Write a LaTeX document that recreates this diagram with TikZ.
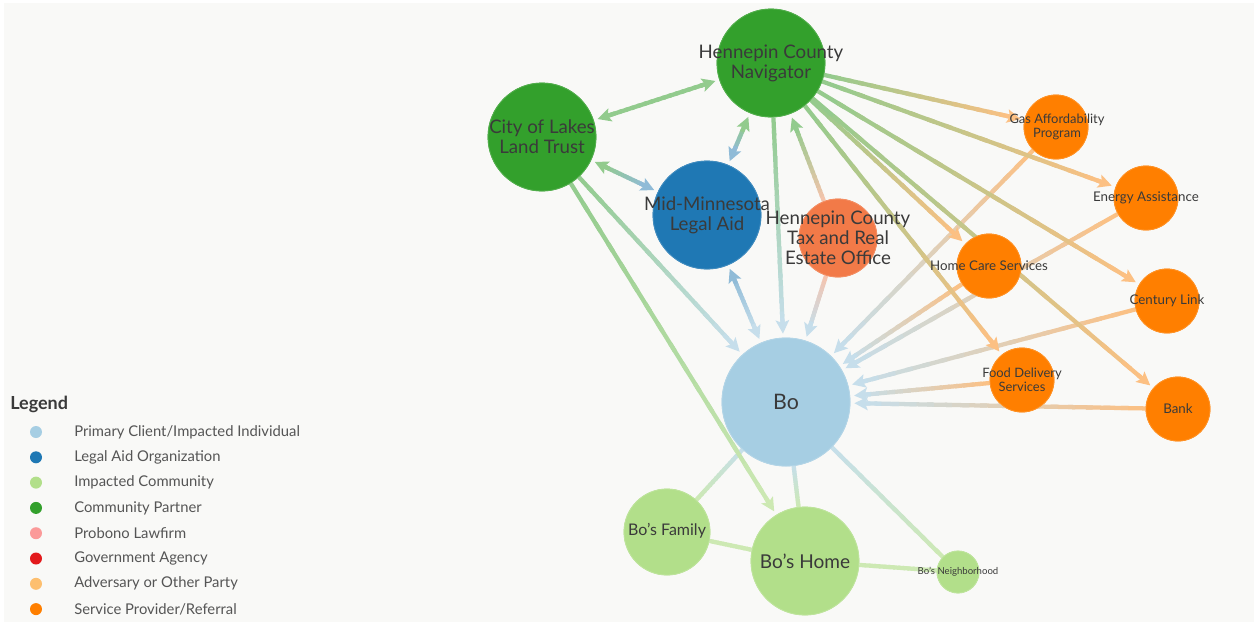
\documentclass[tikz,border=0pt]{standalone}
\usepackage{fontspec}
\setmainfont{Lato}
\usetikzlibrary{arrows.meta,calc}
\definecolor{bgc}{HTML}{F9F9F7}
\definecolor{cBo}{HTML}{A6CEE3}
\definecolor{cLA}{HTML}{1F78B4}
\definecolor{cIC}{HTML}{B2DF8A}
\definecolor{cCP}{HTML}{33A02C}
\definecolor{cPB}{HTML}{FB9A99}
\definecolor{cGA}{HTML}{E31A1C}
\definecolor{cAD}{HTML}{FDBF6F}
\definecolor{cSP}{HTML}{FF7F00}
\definecolor{cHT}{HTML}{F27A48}
\definecolor{txt}{HTML}{3A3A3A}
\definecolor{legtxt}{HTML}{555555}
\colorlet{lBo}{cBo!62!bgc}
\colorlet{lLA}{cLA!48!bgc}
\colorlet{lIC}{cIC!62!bgc}
\colorlet{lCP}{cCP!52!bgc}
\colorlet{lSP}{cSP!47!bgc}
\colorlet{lHT}{cHT!42!bgc}
\tikzset{
  edgeline/.style={line width=3.2pt, line cap=butt},
  tipstyle/.style={-{Stealth[length=10pt,width=10pt,inset=2pt]}},
  nd/.style 2 args={circle, fill=#1, draw=#1!85!white, line width=0.6pt, minimum size=#2*1.5pt, inner sep=0pt},
  lab/.style={text=txt, align=center, inner sep=0pt},
  legdot/.style={circle, fill=#1, minimum size=9pt, inner sep=0pt},
  legtext/.style={text=legtxt, anchor=west, font=\fontsize{11.1}{13}\selectfont, inner sep=0pt}
}
\newcommand\gedge[5]{%
  \path (#1) -- (#2) coordinate[pos=0] (ea0) coordinate[pos=1] (eb0);
  \ifnum#5>0 \coordinate (eb) at ($(eb0)!3pt!(ea0)$); \coordinate (sb) at ($(eb0)!10pt!(ea0)$);
  \else \coordinate (eb) at (eb0); \coordinate (sb) at (eb0); \fi
  \ifnum#5>1 \coordinate (ea) at ($(ea0)!3pt!(eb0)$); \coordinate (sa) at ($(ea0)!10pt!(eb0)$);
  \else \coordinate (ea) at (ea0); \coordinate (sa) at (ea0); \fi
  \foreach \i in {0,...,15}{%
    \pgfmathsetmacro\pa{\i/16}%
    \pgfmathsetmacro\pb{min(1,(\i+1.4)/16)}%
    \pgfmathsetmacro\pc{100*(\i+0.5)/16}%
    \colorlet{segc}{#4!\pc!#3}%
    \draw[edgeline, draw=segc] ($(sa)!\pa!(sb)$) -- ($(sa)!\pb!(sb)$);
  }%
  \ifnum#5>0 \draw[edgeline, draw=#4, fill=#4, tipstyle] ($(eb)!12pt!(ea)$) -- (eb); \fi
  \ifnum#5>1 \draw[edgeline, draw=#3, fill=#3, tipstyle] ($(ea)!12pt!(eb)$) -- (ea); \fi
}
\begin{document}
\begin{tikzpicture}[x=0.75pt,y=-0.75pt]
\useasboundingbox (0,0) rectangle (1254,622);
\fill[white] (0,0) rectangle (1254,622);
\fill[bgc] (4,3) rectangle (1254,622);

% node circles (positions)
\path
 (771,63)  node[nd={cCP}{54}] (hcn) {}
 (542,137) node[nd={cCP}{54}] (cllt) {}
 (707,215) node[nd={cLA}{54}] (mmla) {}
 (838,238) node[nd={cHT}{39}] (hct) {}
 (786,402) node[nd={cBo}{64}] (bo) {}
 (1056,127) node[nd={cSP}{32}] (gas) {}
 (1146,198) node[nd={cSP}{32}] (energy) {}
 (989,266) node[nd={cSP}{32}] (homecare) {}
 (1167,301) node[nd={cSP}{32}] (century) {}
 (1022,380) node[nd={cSP}{32}] (food) {}
 (1178,409) node[nd={cSP}{32}] (bank) {}
 (667,532) node[nd={cIC}{43}] (family) {}
 (805,561) node[nd={cIC}{54}] (home) {}
 (958,572) node[nd={cIC}{21}] (neigh) {};

% edges
\gedge{bo}{family}{lBo}{lIC}{0}
\gedge{bo}{home}{lBo}{lIC}{0}
\gedge{bo}{neigh}{lBo}{lIC}{0}
\gedge{family}{home}{lIC}{lIC}{0}
\gedge{home}{neigh}{lIC}{lIC}{0}
\gedge{cllt}{bo}{lCP}{lBo}{1}
\gedge{cllt}{home}{lCP}{lIC}{1}
\gedge{gas}{bo}{lSP}{lBo}{1}
\gedge{energy}{bo}{lSP}{lBo}{1}
\gedge{homecare}{bo}{lSP}{lBo}{1}
\gedge{century}{bo}{lSP}{lBo}{1}
\gedge{food}{bo}{lSP}{lBo}{1}
\gedge{bank}{bo}{lSP}{lBo}{1}
\gedge{hcn}{gas}{lCP}{lSP}{1}
\gedge{hcn}{energy}{lCP}{lSP}{1}
\gedge{hcn}{homecare}{lCP}{lSP}{1}
\gedge{hcn}{century}{lCP}{lSP}{1}
\gedge{hcn}{food}{lCP}{lSP}{1}
\gedge{hcn}{bank}{lCP}{lSP}{1}
\gedge{hcn}{bo}{lCP}{lBo}{1}
\gedge{hct}{hcn}{lHT}{lCP}{1}
\gedge{hct}{bo}{lHT}{lBo}{1}
\gedge{mmla}{bo}{lLA}{lBo}{2}
\gedge{cllt}{hcn}{lCP}{lCP}{2}
\gedge{cllt}{mmla}{lCP}{lLA}{2}
\gedge{hcn}{mmla}{lCP}{lLA}{2}

% redraw circles on top of edges
\foreach \n/\c/\r in {hcn/cCP/54, cllt/cCP/54, mmla/cLA/54, hct/cHT/39, bo/cBo/64,
  gas/cSP/32, energy/cSP/32, homecare/cSP/32, century/cSP/32, food/cSP/32, bank/cSP/32,
  family/cIC/43, home/cIC/54, neigh/cIC/21}{
  \fill[\c, draw=\c!85!white, line width=0.6pt] (\n.center) circle[radius=\r*0.75pt];
}

% labels
\node[lab, font=\fontsize{14}{15}\selectfont] (hcn-l) at (771,63) {Hennepin County\\Navigator};
\node[lab, font=\fontsize{14}{15}\selectfont] (cllt-l) at (542,137) {City of Lakes\\Land Trust};
\node[lab, font=\fontsize{14}{15}\selectfont] (mmla-l) at (707,215) {Mid-Minnesota\\Legal Aid};
\node[lab, font=\fontsize{14}{15}\selectfont] (hct-l) at (838,238) {Hennepin County\\Tax and Real\\Estate Office};
\node[lab, font=\fontsize{16}{18}\selectfont] (bo-l) at (786,402) {Bo};
\node[lab, font=\fontsize{9.7}{10.8}\selectfont] (gas-l) at (1057,127) {Gas Affordability\\Program};
\node[lab, font=\fontsize{10}{11}\selectfont] (energy-l) at (1146,198) {Energy Assistance};
\node[lab, font=\fontsize{10}{11}\selectfont] (homecare-l) at (989,266) {Home Care Services};
\node[lab, font=\fontsize{10}{11}\selectfont] (century-l) at (1167,301) {Century Link};
\node[lab, font=\fontsize{9.7}{10.8}\selectfont] (food-l) at (1022,380) {Food Delivery\\Services};
\node[lab, font=\fontsize{10}{11}\selectfont] (bank-l) at (1178,409) {Bank};
\node[lab, font=\fontsize{12}{13}\selectfont] (family-l) at (667,531) {Bo's Family};
\node[lab, font=\fontsize{14.3}{15}\selectfont] (home-l) at (805,561) {Bo's Home};
\node[lab, font=\fontsize{7.2}{8}\selectfont] (neigh-l) at (958,572) {Bo's Neighborhood};

% legend
\node[anchor=west, text=txt, font=\bfseries\fontsize{13.5}{15}\selectfont, inner sep=0pt] (leg) at (10,404) {Legend};
\foreach \k/\c/\t [count=\j from 0] in {
  l1/cBo/Primary Client\slash Impacted Individual,
  l2/cLA/Legal Aid Organization,
  l3/cIC/Impacted Community,
  l4/cCP/Community Partner,
  l5/cPB/Probono Lawfirm,
  l6/cGA/Government Agency,
  l7/cAD/Adversary or Other Party,
  l8/cSP/Service Provider\slash Referral}{
  \node[legdot=\c] (\k-d) at (36,{432+25.3*\j}) {};
  \node[legtext] (\k-t) at (74,{432+25.3*\j}) {\t};
}
\end{tikzpicture}
\end{document}
